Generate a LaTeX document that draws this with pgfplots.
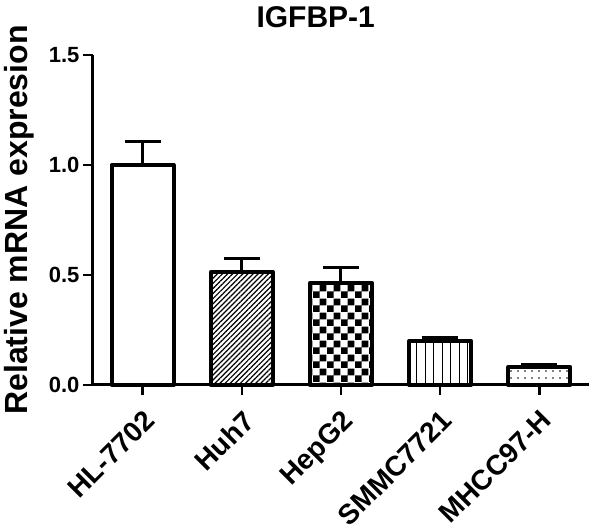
\documentclass[border=0pt]{standalone}
\usepackage{pgfplots}
\pgfplotsset{compat=1.18}
\usepackage{fontspec}
\setmainfont{Liberation Sans}
\usetikzlibrary{patterns,patterns.meta}

% big checkerboard, like GraphPad's
\pgfdeclarepatternformonly{bigcheck}{\pgfqpoint{0pt}{0pt}}{\pgfqpoint{13.6pt}{13.6pt}}{\pgfqpoint{13.6pt}{13.6pt}}{%
  \pgfpathrectangle{\pgfqpoint{0pt}{0pt}}{\pgfqpoint{6.8pt}{6.8pt}}%
  \pgfpathrectangle{\pgfqpoint{6.8pt}{6.8pt}}{\pgfqpoint{6.8pt}{6.8pt}}%
  \pgfusepath{fill}}

\pgfplotstableread{
x y err
0 1.000 0.105
}\hl
\pgfplotstableread{
x y err
1 0.514 0.063
}\huh
\pgfplotstableread{
x y err
2 0.464 0.072
}\hep
\pgfplotstableread{
x y err
3 0.200 0.014
}\smmc
\pgfplotstableread{
x y err
4 0.082 0.013
}\mhcc

\begin{document}
\begin{tikzpicture}
\begin{axis}[
    scale only axis,
    width=496pt, height=330pt,
    axis lines=left,
    axis line style={-, line width=3pt},
    xmin=-0.5, xmax=4.5,
    ymin=0, ymax=1.5,
    ytick={0,0.5,1,1.5},
    xtick={0,1,2,3,4},
    xticklabels={HL-7702,Huh7,HepG2,SMMC7721,MHCC97-H},
    tick align=outside,
    major tick length=10pt,
    tick style={line width=2.5pt, black},
    /pgf/number format/.cd, fixed, fixed zerofill, precision=1, assume math mode=true,
    /pgfplots/.cd,
    yticklabel style={font=\fontsize{22}{26}\selectfont\bfseries},
    xticklabel style={font=\fontsize{28}{32}\selectfont\bfseries, anchor=north east, rotate=45, inner sep=1pt},
    xticklabel shift=12pt,
    ylabel={Relative mRNA expresion},
    ylabel style={font=\fontsize{32}{36}\selectfont\bfseries, at={(axis description cs:-0.133,0.5)}, anchor=base},
    title={IGFBP-1},
    title style={font=\fontsize{30}{34}\selectfont\bfseries, at={(axis description cs:0.449,1)}, anchor=base, yshift=21pt},
    ybar,
    bar width=62pt,
    clip=false,
    every axis plot/.append style={line width=4pt, draw=black, line join=round},
    error bars/y dir=plus,
    error bars/y explicit,
    error bars/error bar style={line width=3pt, black},
    error bars/error mark=|,
    error bars/error mark options={mark size=18pt, line width=3pt, black},
]
\addplot[bar shift=0pt, fill=white] table[x=x, y=y, y error=err] {\hl};
\addplot[bar shift=0pt, pattern={Lines[angle=45, distance=3.6pt, line width=1.2pt]}] table[x=x, y=y, y error=err] {\huh};
\addplot[bar shift=0pt, pattern=bigcheck] table[x=x, y=y, y error=err] {\hep};
\addplot[bar shift=0pt, pattern={Lines[angle=90, distance=8.5pt, line width=1pt]}] table[x=x, y=y, y error=err] {\smmc};
\addplot[bar shift=0pt, pattern={Dots[distance=7pt, radius=0.9pt]}] table[x=x, y=y, y error=err] {\mhcc};
\end{axis}
\pgfresetboundingbox
\path (current axis.south west) ++(-93pt,-147pt) rectangle ++(600pt,532pt);
\end{tikzpicture}
\end{document}
